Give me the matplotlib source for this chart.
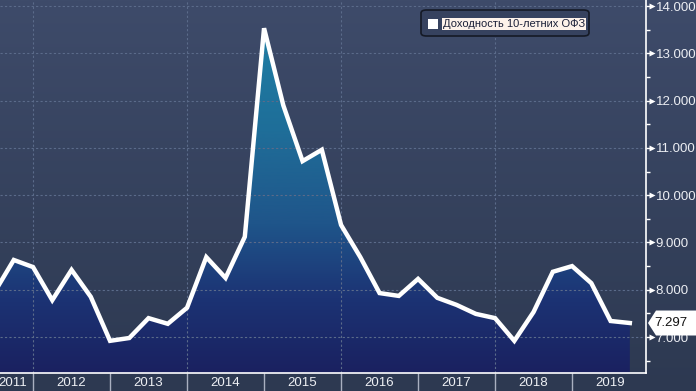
import numpy as np
import matplotlib
matplotlib.use("Agg")
import matplotlib.pyplot as plt
import matplotlib.transforms as mtransforms
from matplotlib.colors import LinearSegmentedColormap
from matplotlib.patches import FancyBboxPatch, Polygon, Rectangle

plt.rcParams["font.family"] = ["Liberation Sans", "DejaVu Sans"]

# ---- data ----
quarters = ["2011Q3", "2011Q4",
            "2012Q1", "2012Q2", "2012Q3", "2012Q4",
            "2013Q1", "2013Q2", "2013Q3", "2013Q4",
            "2014Q1", "2014Q2", "2014Q3", "2014Q4",
            "2015Q1", "2015Q2", "2015Q3", "2015Q4",
            "2016Q1", "2016Q2", "2016Q3", "2016Q4",
            "2017Q1", "2017Q2", "2017Q3", "2017Q4",
            "2018Q1", "2018Q2", "2018Q3", "2018Q4",
            "2019Q1", "2019Q2", "2019Q3", "2019Q4"]
yields = [7.95, 8.63,
          8.48, 7.78, 8.42, 7.85,
          6.92, 6.98, 7.40, 7.28,
          7.62, 8.69, 8.25, 9.12,
          13.53, 11.90, 10.72, 10.96,
          9.37, 8.69, 7.93, 7.87,
          8.23, 7.83, 7.68, 7.49,
          7.40, 6.92, 7.53, 8.38,
          8.50, 8.14, 7.34, 7.297]
year_labels = ["2011", "2012", "2013", "2014", "2015", "2016", "2017", "2018", "2019"]
y_ticks = [7, 8, 9, 10, 11, 12, 13, 14]
legend_label = "Доходность 10-летних ОФЗ"
last_label = "7.297"

x = np.array([int(q[:4]) + (int(q[-1]) - 1) / 4 for q in quarters])
y = np.array(yields)

W, H = 696, 391
fig = plt.figure(figsize=(W / 100, H / 100), dpi=100)

# background gradient
bg = fig.add_axes([0, 0, 1, 1], zorder=-10)
bg.set_axis_off()
bgcmap = LinearSegmentedColormap.from_list("bg", ["#2d3951", "#3e4b6a"])
bg.imshow(np.linspace(0, 1, 256).reshape(-1, 1), aspect="auto", cmap=bgcmap,
          origin="lower", extent=[0, 1, 0, 1])
bg.set_xlim(0, 1); bg.set_ylim(0, 1)

ax_l, ax_r = 0 / W, 646 / W
ax_b, ax_t = (H - 373) / H, 1.0
ax = fig.add_axes([ax_l, ax_b, ax_r - ax_l, ax_t - ax_b])
ax.set_facecolor("none")

xmin, xmax = 2011.571, 2019.96
ymin, ymax = 6.24, 14.127

# gradient fill under the line
fillcmap = LinearSegmentedColormap.from_list(
    "fill", [(0.0, "#1a2160"), (0.2, "#1c3374"), (0.4, "#1f558a"),
             (0.65, "#1f6e99"), (1.0, "#1e82a7")])
poly = ax.fill_between(x, y, ymin - 1, color="none", lw=0)
img = ax.imshow(np.linspace(0, 1, 256).reshape(-1, 1), aspect="auto",
                cmap=fillcmap, origin="lower",
                extent=[xmin - 1, xmax + 1, ymin, ymax], zorder=1)
img.set_clip_path(poly.get_paths()[0], transform=ax.transData)
ax.set_xlim(xmin, xmax)
ax.set_ylim(ymin, ymax)

# grid
for v in y_ticks:
    ax.axhline(v, color="#5b6b8a", lw=0.8, ls=(0, (2, 2)), zorder=2)
for yr in [2012, 2014, 2016, 2018]:
    ax.axvline(yr, color="#5b6b8a", lw=0.8, ls=(0, (2, 2)), zorder=2)

# line
ax.plot(x, y, color="white", lw=3.2, solid_joinstyle="miter", zorder=4)

# spines
for s in ["left", "top"]:
    ax.spines[s].set_visible(False)
ax.spines["right"].set_color("white")
ax.spines["bottom"].set_color("white")
ax.spines["right"].set_linewidth(1.2)
ax.spines["bottom"].set_linewidth(1.2)

# y axis on right
ax.yaxis.tick_right()
ax.set_yticks(y_ticks)
ax.set_yticklabels([f"{v:.3f}" for v in y_ticks])
ax.set_yticks(np.arange(6.5, 14.2, 1.0), minor=True)
ax.tick_params(axis="y", which="major", length=3, width=1, color="white",
               pad=4, labelsize=9.5, labelcolor="#eceef3")
ax.tick_params(axis="y", which="minor", length=3, width=1, color="white")
tri_tr = mtransforms.blended_transform_factory(ax.transAxes, ax.transData)
ax.plot([1 + 6 / 646] * len(y_ticks), y_ticks, ls="none", marker=">",
        ms=5, color="white", mec="none", transform=tri_tr, clip_on=False, zorder=5)

# x axis: separators at year boundaries, labels at mid-year (first one kept visible)
ax.set_xticks(np.arange(2012, 2020))
ax.set_xticklabels([])
label_pos = [max(int(l) + 0.5, xmin + 0.17) for l in year_labels]
ax.set_xticks(label_pos, minor=True)
ax.set_xticklabels(year_labels, minor=True)
ax.tick_params(axis="x", which="major", length=13, width=1, color="#a9b0c0",
               direction="out")
ax.tick_params(axis="x", which="minor", length=0, pad=3, labelsize=9.5,
               labelcolor="#eef0f4")

# legend
lx0, ly0 = 421, 10
lw_, lh_ = 168, 26
box = FancyBboxPatch((lx0 / W, 1 - (ly0 + lh_) / H), lw_ / W, lh_ / H,
                     boxstyle="round,pad=0,rounding_size=0.008",
                     transform=fig.transFigure, facecolor="#36425f",
                     edgecolor="#151a26", lw=1.2, zorder=20)
fig.patches.append(box)
fig.patches.append(Rectangle((428 / W, 1 - 29 / H), 10 / W, 10 / H,
                             transform=fig.transFigure, facecolor="white",
                             edgecolor="none", zorder=21))
fig.text(443 / W, 1 - 24 / H, legend_label, fontsize=8, color="#1b2038",
         va="center", ha="left", zorder=22,
         bbox=dict(boxstyle="square,pad=0.08", fc="#fdf2ea", ec="none"))

# last value label
lv = y[-1]
hh = 12.5 / 47.3
tr = mtransforms.blended_transform_factory(fig.transFigure, ax.transData)
pts = [(648 / W, lv), (656 / W, lv + hh), (1.0, lv + hh), (1.0, lv - hh),
       (656 / W, lv - hh)]
ax.add_patch(Polygon(pts, closed=True, transform=tr, facecolor="white",
                     edgecolor="none", clip_on=False, zorder=10))
ax.text(671 / W, lv, last_label, transform=tr, fontsize=9.5, color="#111111",
        ha="center", va="center", zorder=11, clip_on=False)

fig.savefig("out.png", dpi=100)
